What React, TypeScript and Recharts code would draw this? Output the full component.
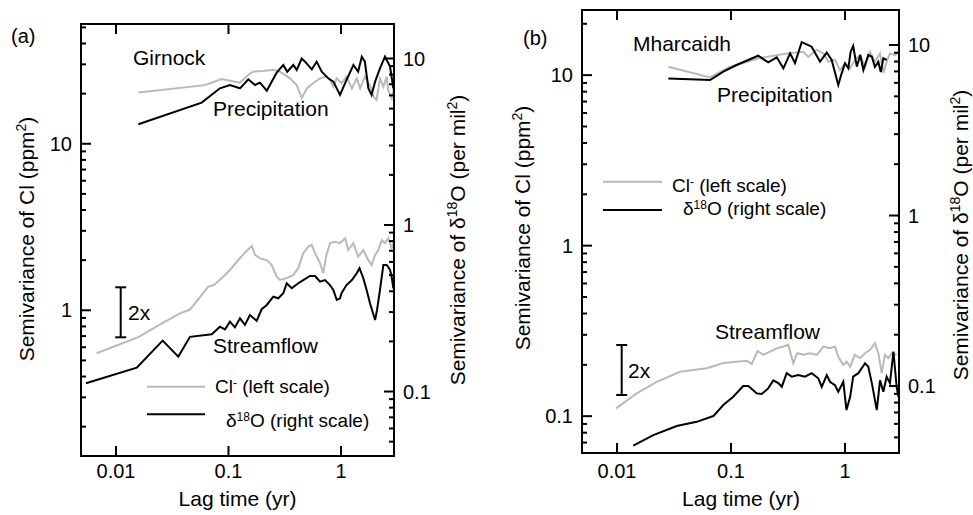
import React from 'react'
import { LineChart, Line, XAxis, YAxis, ReferenceLine } from 'recharts'

const FONT = '"Liberation Sans", Arial, Helvetica, sans-serif'
const GREY = '#b9b9b9'
const BLACK = '#000'

// (a) Girnock -- lag time (yr) and semivariance
const gPrecipClLag = [0.0158, 0.0618, 0.0871, 0.1265, 0.15, 0.165, 0.203, 0.25, 0.287, 0.352, 0.404, 0.448, 0.496, 0.564, 0.65, 0.746, 0.798, 0.855, 0.916, 1.01, 1.12, 1.25, 1.38, 1.48, 1.63, 1.81, 1.94, 2.07, 2.22, 2.38, 2.55, 2.63, 2.82, 2.96]
const gPrecipClVal = [20.3, 22.5, 24.5, 23.3, 25.9, 27.1, 27.4, 27.8, 27.1, 24.7, 22.5, 18.8, 21.5, 23.1, 24.7, 25.3, 24.2, 22.0, 24.7, 23.1, 25.3, 21.5, 24.7, 21.5, 25.3, 22.5, 19.2, 18.3, 24.7, 22.0, 25.3, 21.0, 18.8, 21.9]
const gPrecipO18Lag = [0.0158, 0.0578, 0.0839, 0.103, 0.1265, 0.15, 0.172, 0.1905, 0.219, 0.268, 0.307, 0.333, 0.377, 0.404, 0.448, 0.479, 0.55, 0.608, 0.674, 0.771, 0.855, 0.98, 1.12, 1.29, 1.42, 1.53, 1.63, 1.75, 1.87, 2.01, 2.22, 2.46, 2.73, 2.92]
const gPrecipO18Val = [4.03, 5.43, 6.62, 6.93, 6.62, 7.5, 6.93, 7.16, 6.41, 8.22, 9.14, 8.33, 9.14, 8.53, 10.0, 9.57, 8.61, 9.57, 8.33, 7.6, 7.26, 6.04, 7.43, 9.14, 8.33, 10.25, 9.57, 6.62, 6.04, 7.26, 8.73, 10.25, 8.93, 6.62]
const gStreamClLag = [0.00673, 0.0158, 0.0263, 0.0371, 0.0455, 0.0661, 0.0743, 0.0899, 0.103, 0.1265, 0.145, 0.161, 0.172, 0.1905, 0.219, 0.242, 0.268, 0.287, 0.329, 0.377, 0.417, 0.462, 0.512, 0.549, 0.588, 0.651, 0.696, 0.736, 0.798, 0.885, 0.98, 1.09, 1.16, 1.29, 1.42, 1.58, 1.75, 1.87, 2.01, 2.15, 2.3, 2.46, 2.63, 2.82, 2.92]
const gStreamClVal = [0.552, 0.689, 0.842, 0.959, 1.01, 1.386, 1.419, 1.591, 1.746, 2.06, 2.27, 2.43, 2.15, 2.05, 2.0, 1.87, 1.59, 1.52, 1.56, 1.63, 1.79, 2.2, 2.41, 2.47, 2.2, 1.92, 1.67, 2.1, 2.53, 2.58, 2.53, 2.71, 2.3, 2.53, 2.1, 2.3, 2.0, 1.87, 2.15, 2.3, 2.64, 2.53, 2.71, 2.36, 2.53]
const gStreamO18Lag = [0.00541, 0.0153, 0.026, 0.0358, 0.0455, 0.071, 0.0839, 0.093, 0.103, 0.114, 0.1265, 0.14, 0.155, 0.178, 0.197, 0.219, 0.25, 0.277, 0.307, 0.329, 0.365, 0.417, 0.462, 0.53, 0.588, 0.651, 0.721, 0.798, 0.855, 0.916, 0.98, 1.01, 1.12, 1.25, 1.38, 1.46, 1.58, 1.69, 1.81, 2.01, 2.09, 2.22, 2.38, 2.55, 2.73, 2.82, 2.92]
const gStreamO18Val = [0.112, 0.139, 0.202, 0.162, 0.213, 0.221, 0.245, 0.236, 0.263, 0.243, 0.275, 0.251, 0.288, 0.266, 0.312, 0.331, 0.371, 0.363, 0.389, 0.447, 0.417, 0.447, 0.467, 0.494, 0.494, 0.457, 0.467, 0.436, 0.407, 0.355, 0.363, 0.389, 0.436, 0.467, 0.513, 0.55, 0.479, 0.407, 0.339, 0.269, 0.308, 0.407, 0.575, 0.575, 0.537, 0.489, 0.417]

// (b) Mharcaidh
const mPrecipClLag = [0.0282, 0.0655, 0.098, 0.1795, 0.308, 0.431, 0.477, 0.565, 0.646, 0.714, 0.817, 0.904, 1.0, 1.11, 1.22, 1.36, 1.5, 1.66, 1.83, 2.03, 2.17, 2.32, 2.48, 2.75, 2.94]
const mPrecipClVal = [11.2, 9.7, 11.2, 12.6, 13.4, 13.7, 12.8, 14.1, 13.4, 12.0, 12.3, 10.7, 11.7, 11.0, 12.3, 13.1, 11.2, 13.7, 12.0, 13.4, 10.3, 12.0, 13.4, 13.1, 13.7]
const mPrecipO18Lag = [0.0282, 0.0655, 0.0856, 0.112, 0.173, 0.212, 0.252, 0.288, 0.33, 0.364, 0.417, 0.51, 0.604, 0.692, 0.764, 0.873, 0.935, 1.0, 1.07, 1.12, 1.18, 1.27, 1.36, 1.45, 1.6, 1.72, 1.83, 1.96, 2.06, 2.17, 2.32]
const mPrecipO18Val = [6.36, 6.23, 6.97, 7.63, 8.65, 7.92, 8.47, 7.3, 8.94, 7.84, 10.4, 9.77, 7.98, 9.03, 8.17, 5.83, 6.82, 7.81, 7.3, 9.1, 9.87, 7.46, 8.74, 7.13, 8.74, 8.54, 7.43, 7.98, 6.94, 8.36, 8.17]
const mStreamClLag = [0.0098, 0.0149, 0.0223, 0.0357, 0.0612, 0.0856, 0.1375, 0.152, 0.1706, 0.192, 0.22, 0.252, 0.288, 0.318, 0.352, 0.38, 0.431, 0.493, 0.565, 0.646, 0.738, 0.817, 0.873, 0.966, 1.03, 1.11, 1.22, 1.36, 1.5, 1.66, 1.83, 1.96, 2.1, 2.24, 2.4, 2.57, 2.84]
const mStreamClVal = [0.111, 0.136, 0.159, 0.182, 0.191, 0.205, 0.211, 0.202, 0.241, 0.229, 0.239, 0.25, 0.256, 0.262, 0.204, 0.234, 0.229, 0.234, 0.229, 0.256, 0.25, 0.256, 0.223, 0.2, 0.209, 0.195, 0.229, 0.219, 0.234, 0.245, 0.268, 0.234, 0.179, 0.229, 0.219, 0.234, 0.229]
const mStreamO18Lag = [0.0139, 0.0208, 0.0334, 0.05, 0.07, 0.0856, 0.1047, 0.128, 0.142, 0.168, 0.186, 0.212, 0.235, 0.26, 0.279, 0.308, 0.341, 0.389, 0.446, 0.51, 0.583, 0.625, 0.692, 0.738, 0.817, 0.873, 0.966, 1.03, 1.11, 1.18, 1.31, 1.5, 1.6, 1.72, 1.9, 2.03, 2.17, 2.32, 2.48, 2.66, 2.84, 2.94]
const mStreamO18Val = [0.0448, 0.0516, 0.0583, 0.0617, 0.0667, 0.0774, 0.0865, 0.1, 0.1, 0.0906, 0.0898, 0.0969, 0.108, 0.104, 0.099, 0.119, 0.1135, 0.116, 0.1135, 0.119, 0.111, 0.099, 0.116, 0.106, 0.1013, 0.0926, 0.106, 0.0723, 0.0865, 0.1135, 0.119, 0.136, 0.13, 0.104, 0.0723, 0.108, 0.0926, 0.1135, 0.104, 0.159, 0.099, 0.0865]

const xTickValues = [0.01, 0.1, 1]

const zip = (lag: number[], val: number[]) => lag.map((x, i) => ({ lag: x, v: val[i] }))

const logTicks = (lo: number, hi: number) => {
  const out: number[] = []
  for (let e = -3; e <= 2; e++) {
    for (let m = 1; m <= 9; m++) {
      const t = Number((m * Math.pow(10, e)).toPrecision(2))
      if (t >= lo && t <= hi) out.push(t)
    }
  }
  return out
}

const isMajor = (v: number) => Math.abs(Math.log10(v) - Math.round(Math.log10(v))) < 1e-6

const AXIS = { stroke: BLACK, strokeWidth: 2, strokeLinecap: 'square' as const }
const AXIS_W = 60
const XAXIS_H = 30
const H = 515

// labels only; the inward tick marks are drawn by <TickMarks/>
const yTick = (side: 'left' | 'right') => (props: any) => {
  const v = Number(props.payload.value)
  if (!isMajor(v)) return <g />
  const dir = side === 'left' ? 1 : -1
  return (
    <text x={Number(props.x) - dir * 9} y={Number(props.y)} dy="0.36em" textAnchor={side === 'left' ? 'end' : 'start'}
      fontSize={20} fontFamily={FONT} fill={BLACK}>{String(v)}</text>
  )
}

const xTick = (labelDy: number) => (props: any) => (
  <text x={Number(props.x)} y={Number(props.y) + labelDy} textAnchor="middle" fontSize={20} fontFamily={FONT} fill={BLACK}>
    {String(props.payload.value)}
  </text>
)

type Series = { data: { lag: number; v: number }[]; axis: 'L' | 'R'; color: string }
type PanelCfg = {
  left: number
  width: number
  margin: { top: number; right: number; bottom: number; left: number }
  labelDy: number
  xDomain: [number, number]
  leftDomain: [number, number]
  rightDomain: [number, number]
  series: Series[]
}

const panelA: PanelCfg = {
  left: 0,
  width: 490,
  margin: { top: 24, right: 36, bottom: 29, left: 21 },
  labelDy: 22,
  xDomain: [0.004886, 2.959],
  leftDomain: [0.1333, 52.4],
  rightDomain: [0.041, 16.11],
  series: [
    { data: zip(gPrecipClLag, gPrecipClVal), axis: 'L', color: GREY },
    { data: zip(gStreamClLag, gStreamClVal), axis: 'L', color: GREY },
    { data: zip(gPrecipO18Lag, gPrecipO18Val), axis: 'R', color: BLACK },
    { data: zip(gStreamO18Lag, gStreamO18Val), axis: 'R', color: BLACK },
  ],
}

const panelB: PanelCfg = {
  left: 490,
  width: 483,
  margin: { top: 10, right: 14, bottom: 32, left: 32 },
  labelDy: 25,
  xDomain: [0.00493, 2.977],
  leftDomain: [0.0608, 24.1],
  rightDomain: [0.0405, 16.04],
  series: [
    { data: zip(mPrecipClLag, mPrecipClVal), axis: 'L', color: GREY },
    { data: zip(mStreamClLag, mStreamClVal), axis: 'L', color: GREY },
    { data: zip(mPrecipO18Lag, mPrecipO18Val), axis: 'R', color: BLACK },
    { data: zip(mStreamO18Lag, mStreamO18Val), axis: 'R', color: BLACK },
  ],
}

function Panel({ cfg }: { cfg: PanelCfg }) {
  return (
    <div style={{ position: 'absolute', left: cfg.left, top: 0 }}>
      <LineChart width={cfg.width} height={H} margin={cfg.margin}>
        <XAxis type="number" dataKey="lag" scale="log" domain={cfg.xDomain} allowDataOverflow
          ticks={xTickValues} interval={0} tickSize={0} tickMargin={0} tickLine={false}
          axisLine={AXIS} tick={xTick(cfg.labelDy)} height={XAXIS_H} />
        <YAxis yAxisId="L" orientation="left" type="number" scale="log" domain={cfg.leftDomain} allowDataOverflow
          ticks={logTicks(cfg.leftDomain[0], cfg.leftDomain[1])} interval={0} tickSize={0} tickMargin={0}
          tickLine={false} axisLine={AXIS} tick={yTick('left')} width={AXIS_W} />
        <YAxis yAxisId="R" orientation="right" type="number" scale="log" domain={cfg.rightDomain} allowDataOverflow
          ticks={logTicks(cfg.rightDomain[0], cfg.rightDomain[1])} interval={0} tickSize={0} tickMargin={0}
          tickLine={false} axisLine={AXIS} tick={yTick('right')} width={AXIS_W} />
        <ReferenceLine yAxisId="L" y={cfg.leftDomain[1]} stroke={BLACK} strokeWidth={2} />
        {cfg.series.map((s, i) => (
          <Line key={i} data={s.data} dataKey="v" yAxisId={s.axis} type="linear" stroke={s.color}
            strokeWidth={2} dot={false} isAnimationActive={false} />
        ))}
      </LineChart>
    </div>
  )
}

// inward tick marks (major 10px, minor 5px), placed with the same log mapping as the axes
function TickMarks({ cfg }: { cfg: PanelCfg }) {
  const x0 = cfg.left + cfg.margin.left + AXIS_W
  const x1 = cfg.left + cfg.width - cfg.margin.right - AXIS_W
  const y0 = cfg.margin.top
  const y1 = H - cfg.margin.bottom - XAXIS_H
  const frac = (v: number, d: [number, number]) =>
    (Math.log10(v) - Math.log10(d[0])) / (Math.log10(d[1]) - Math.log10(d[0]))
  const marks: { a: number; b: number; c: number; d: number }[] = []
  xTickValues.forEach((v) => {
    const px = x0 + frac(v, cfg.xDomain) * (x1 - x0)
    marks.push({ a: px, b: y1, c: px, d: y1 - 10 })
    marks.push({ a: px, b: y0, c: px, d: y0 + 10 })
  })
  logTicks(cfg.leftDomain[0], cfg.leftDomain[1]).forEach((v) => {
    const py = y1 - frac(v, cfg.leftDomain) * (y1 - y0)
    marks.push({ a: x0, b: py, c: x0 + (isMajor(v) ? 10 : 5), d: py })
  })
  logTicks(cfg.rightDomain[0], cfg.rightDomain[1]).forEach((v) => {
    const py = y1 - frac(v, cfg.rightDomain) * (y1 - y0)
    marks.push({ a: x1, b: py, c: x1 - (isMajor(v) ? 10 : 5), d: py })
  })
  return (
    <g>
      {marks.map((m, i) => (
        <line key={i} x1={m.a} y1={m.b} x2={m.c} y2={m.d} stroke={BLACK} strokeWidth={2} />
      ))}
    </g>
  )
}

const T = { fontFamily: FONT, fill: BLACK }

function ClLegend({ x, y }: { x: number; y: number }) {
  return (
    <text x={x} y={y} fontSize={19} {...T}>
      Cl<tspan dy={-6} fontSize={12}>-</tspan><tspan dy={6}> (left scale)</tspan>
    </text>
  )
}

function O18Legend({ x, y }: { x: number; y: number }) {
  return (
    <text x={x} y={y} fontSize={19} {...T}>
      δ<tspan dy={-6} fontSize={12}>18</tspan><tspan dy={6}>O (right scale)</tspan>
    </text>
  )
}

function LeftTitle({ x, y }: { x: number; y: number }) {
  return (
    <text transform={`translate(${x},${y}) rotate(-90)`} textAnchor="middle" fontSize={21} {...T}>
      Semivariance of Cl (ppm<tspan dy={-8} fontSize={14}>2</tspan><tspan dy={8}>)</tspan>
    </text>
  )
}

function RightTitle({ x, y }: { x: number; y: number }) {
  return (
    <text transform={`translate(${x},${y}) rotate(-90)`} textAnchor="middle" fontSize={21} {...T}>
      Semivariance of δ<tspan dy={-8} fontSize={14}>18</tspan><tspan dy={8}>O (per mil</tspan>
      <tspan dy={-8} fontSize={14}>2</tspan><tspan dy={8}>)</tspan>
    </text>
  )
}

function ScaleBar({ x, y1, y2, tx }: { x: number; y1: number; y2: number; tx: number }) {
  return (
    <g>
      <line x1={x} x2={x} y1={y1} y2={y2} stroke={BLACK} strokeWidth={2} />
      <line x1={x - 5.5} x2={x + 5.5} y1={y1} y2={y1} stroke={BLACK} strokeWidth={2} />
      <line x1={x - 5.5} x2={x + 5.5} y1={y2} y2={y2} stroke={BLACK} strokeWidth={2} />
      <text x={tx} y={(y1 + y2) / 2 + 8} fontSize={21} {...T}>2x</text>
    </g>
  )
}

function Overlay() {
  return (
    <svg width={973} height={H} style={{ position: 'absolute', left: 0, top: 0, pointerEvents: 'none' }}>
      <TickMarks cfg={panelA} />
      <TickMarks cfg={panelB} />

      {/* panel (a) */}
      <text x={11} y={43} fontSize={20} {...T}>(a)</text>
      <text x={133} y={65} fontSize={21} {...T}>Girnock</text>
      <text x={213} y={116} fontSize={21} {...T}>Precipitation</text>
      <text x={213} y={353} fontSize={21} {...T}>Streamflow</text>
      <line x1={147} x2={205} y1={386.7} y2={386.7} stroke={GREY} strokeWidth={2} />
      <ClLegend x={215} y={393} />
      <line x1={147} x2={205} y1={414.3} y2={414.3} stroke={BLACK} strokeWidth={2} />
      <O18Legend x={226} y={427} />
      <ScaleBar x={120.7} y1={287.3} y2={337.3} tx={128} />
      <text x={237.5} y={506} textAnchor="middle" fontSize={21} {...T}>Lag time (yr)</text>
      <LeftTitle x={34} y={239} />
      <RightTitle x={465} y={240} />

      {/* panel (b) */}
      <text x={523} y={45} fontSize={20} {...T}>(b)</text>
      <text x={633} y={51} fontSize={21} {...T}>Mharcaidh</text>
      <text x={717} y={102} fontSize={21} {...T}>Precipitation</text>
      <text x={715} y={339} fontSize={21} {...T}>Streamflow</text>
      <line x1={603} x2={662} y1={181.7} y2={181.7} stroke={GREY} strokeWidth={2} />
      <ClLegend x={672} y={192} />
      <line x1={603} x2={662} y1={210} y2={210} stroke={BLACK} strokeWidth={2} />
      <O18Legend x={683} y={215} />
      <ScaleBar x={621.7} y1={345} y2={395} tx={628} />
      <text x={741} y={506} textAnchor="middle" fontSize={21} {...T}>Lag time (yr)</text>
      <LeftTitle x={530} y={228} />
      <RightTitle x={968} y={235} />
    </svg>
  )
}

export default function App() {
  return (
    <div style={{ position: 'absolute', left: 0, top: 0, width: 973, height: H, background: '#fff' }}>
      <Panel cfg={panelA} />
      <Panel cfg={panelB} />
      <Overlay />
    </div>
  )
}
